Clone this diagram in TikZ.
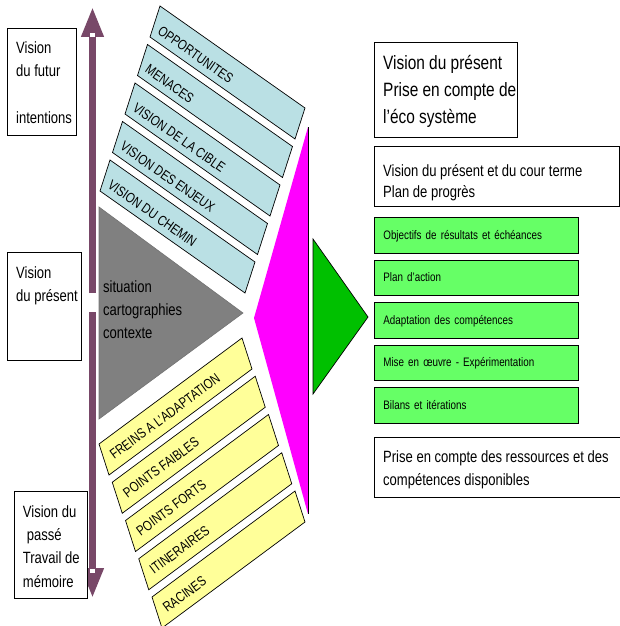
\documentclass[tikz,border=0pt]{standalone}
\usepackage{fontspec}
\setmainfont{Liberation Sans}[FakeStretch=0.8]
\usetikzlibrary{arrows.meta}

\definecolor{arrowplum}{RGB}{120,72,104}
\definecolor{bandblue}{RGB}{186,224,228}
\definecolor{bandyellow}{RGB}{255,255,153}
\definecolor{wedgegray}{RGB}{128,128,128}
\definecolor{wedgepink}{RGB}{255,0,255}
\definecolor{wedgegreen}{RGB}{0,192,0}
\definecolor{boxgreen}{RGB}{102,255,102}

\newcommand\pxfont[2]{\fontsize{#1}{#2}\selectfont}

\begin{document}
\begin{tikzpicture}[x=1pt,y=-1pt,
  frame/.style={draw=black, line width=0.7pt, fill=white, inner sep=0pt, anchor=north west},
  txt/.style={inner sep=0pt, anchor=north west, align=left, font=\pxfont{16.3}{23.5}},
  band/.style={draw=black, line width=0.7pt},
  bandtxt/.style={inner sep=0pt, anchor=west, font=\pxfont{14}{16}},
  timeline/.style={draw=arrowplum, line width=7pt, -{Triangle[width=21pt,length=30pt]}},
  gbox/.style={draw=black, line width=0.7pt, fill=boxgreen, anchor=north west,
    minimum height=35.3pt, text width=186pt, inner xsep=9pt, inner ysep=0pt,
    align=left, text height=8.8pt, text depth=1pt, font=\pxfont{12.3}{14}}]

\useasboundingbox (0,0) rectangle (620,626);

% time axis: future upwards, past downwards
\coordinate (upfoot) at (92.5,293);
\coordinate (uptip) at (92.5,7);
\coordinate (downfoot) at (92.5,312);
\coordinate (downtip) at (92.5,598);
\draw[timeline] (upfoot) -- (uptip);
\draw[timeline] (downfoot) -- (downtip);
\fill[white] (90,33) rectangle (95,37.5);
\fill[white] (90,568.5) rectangle (95,573);

% left labels
\node[frame, minimum width=69pt, minimum height=107pt] (futur) at (7,28) {};
\node[txt] (futurtxt) at (16,41.3) {Vision\\du futur\\[23.5pt]intentions};
\node[frame, minimum width=74pt, minimum height=108pt] (present) at (7,252) {};
\node[txt] (presenttxt) at (16,266.3) {Vision\\du présent};
\node[frame, minimum width=73pt, minimum height=107pt] (passe) at (14,491) {};
\node[txt, font=\pxfont{16.3}{23.3}] (passetxt) at (22.7,505.3) {Vision du\\\hspace*{4pt}passé\\Travail de\\mémoire};

% future bands
\foreach \i/\t in {0/OPPORTUNITES,1/MENACES,2/VISION DE LA CIBLE,3/VISION DES ENJEUX,4/VISION DU CHEMIN} {
  \path[band, fill=bandblue] (160-12.5*\i, 6+38.5*\i) -- ++(145,102) -- ++(-10,31) -- ++(-145,-102) -- cycle;
  \node[bandtxt, rotate=-35.1] (blue\i) at (159.4-12.5*\i, 29.3+38.5*\i) {\t};
}

% past bands
\foreach \j/\t in {0/FREINS A L’ADAPTATION,1/POINTS FAIBLES,2/POINTS FORTS,3/ITINERAIRES,4/RACINES} {
  \path[band, fill=bandyellow] (99+13.25*\j, 444+38.25*\j) -- ++(143,-106) -- ++(10,31) -- ++(-143,106) -- cycle;
  \node[bandtxt, rotate=36.55] (yel\j) at (111.4+13.25*\j, 456.2+38.25*\j) {\t};
}

% present situation wedge
\draw[fill=wedgegray, draw=black!55, line width=0.6pt] (99,207) -- (243,313) -- (99,419) -- cycle;
\node[txt, font=\pxfont{16.3}{23}] (sittxt) at (103,280.3) {situation\\cartographies\\contexte};

% converging wedge
\fill[wedgepink] (308,127) -- (254,318) -- (308,514) -- cycle;
\draw[line width=0.7pt] (308,127) -- (308,514);

% action wedge
\draw[fill=wedgegreen, draw=black, line width=0.7pt] (313,239) -- (368,317) -- (313,394) -- cycle;

% right column
\node[frame, minimum width=143pt, minimum height=95pt] (eco) at (374,42) {};
\node[txt, font=\pxfont{19.3}{27}] (ecotxt) at (383,55.4) {Vision du présent\\Prise en compte de\\l’éco système};
\node[frame, minimum width=245pt, minimum height=60pt] (court) at (374,146) {};
\node[txt, font=\pxfont{16.3}{21}] (courttxt) at (383,164.1) {Vision du présent et du cour terme\\Plan de progrès};

\node[gbox] (obj) at (374,217.3) {Objectifs de résultats et échéances};
\node[gbox] (plan) at (374,259.8) {Plan d’action};
\node[gbox] (adapt) at (374,302.3) {Adaptation des compétences};
\node[gbox] (mise) at (374,344.8) {Mise en œuvre - Expérimentation};
\node[gbox] (bilan) at (374,387.3) {Bilans et itérations};

\node[frame, minimum width=245.5pt, minimum height=60pt] (res) at (374,437) {};
\node[txt, font=\pxfont{16.3}{23.3}] (restxt) at (383,450) {Prise en compte des ressources et des\\compétences disponibles};

\end{tikzpicture}
\end{document}
